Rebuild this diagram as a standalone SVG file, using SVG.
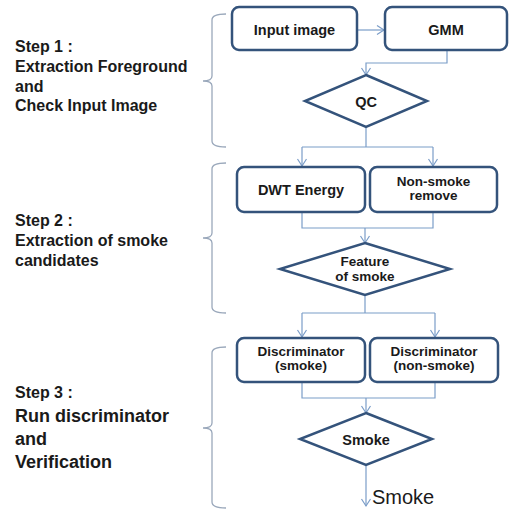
<svg xmlns="http://www.w3.org/2000/svg" width="509" height="512" viewBox="0 0 509 512">
  <style>
    .box { fill: #ffffff; stroke: #34537b; stroke-width: 2.5; }
    .dia { fill: #ffffff; stroke: #34537b; stroke-width: 2.5; stroke-linejoin: miter; }
    .lbl { font-family: "Liberation Sans", Arial, sans-serif; font-weight: bold; font-size: 14.5px; fill: #1a1a1a; text-anchor: middle; }
    .lbl.two { font-size: 13.5px; }
    .step { font-family: "Liberation Sans", Arial, sans-serif; font-weight: bold; font-size: 16px; fill: #1a1a1a; }
    .step.big { font-size: 18px; }
    .out { font-family: "Liberation Sans", Arial, sans-serif; font-size: 20px; fill: #1a1a1a; }
    .wire { fill: none; stroke: #7b9dc8; stroke-width: 1.2; }
    .brace { fill: none; stroke: #9aa8bb; stroke-width: 1.3; }
  </style>
  <defs>
    <marker id="arr" markerUnits="userSpaceOnUse" markerWidth="12" markerHeight="12" viewBox="0 0 12 12" refX="10" refY="6" orient="auto">
      <path d="M3,1.5 L10,6 L3,10.5" fill="none" stroke="#7b9dc8" stroke-width="1.2"/>
    </marker>
  </defs>

  <rect width="509" height="512" fill="#ffffff"/>

  <!-- step captions -->
  <g id="step1-label">
    <text class="step" x="15" y="52">Step 1 :</text>
    <text class="step" x="15" y="72">Extraction Foreground</text>
    <text class="step" x="15" y="92">and</text>
    <text class="step" x="15" y="111">Check Input Image</text>
  </g>
  <g id="step2-label">
    <text class="step" x="15" y="226">Step 2 :</text>
    <text class="step" x="15" y="246">Extraction of smoke</text>
    <text class="step" x="15" y="266">candidates</text>
  </g>
  <g id="step3-label">
    <text class="step" x="15" y="398">Step 3 :</text>
    <text class="step big" x="15" y="422">Run discriminator</text>
    <text class="step big" x="15" y="445">and</text>
    <text class="step big" x="15" y="468">Verification</text>
  </g>

  <!-- braces grouping each step -->
  <g id="braces">
    <path class="brace" d="M226,14 Q212,14 212,20 L212,76 Q212,81 203,81 Q212,81 212,86 L212,141 Q212,147 226,147"/>
    <path class="brace" d="M226,163 Q212,163 212,169 L212,233 Q212,238 203,238 Q212,238 212,243 L212,307 Q212,313 226,313"/>
    <path class="brace" d="M226,347 Q212,347 212,353 L212,423 Q212,428 203,428 Q212,428 212,433 L212,502 Q212,508 226,508"/>
  </g>

  <!-- connectors -->
  <g id="connectors">
    <path class="wire" d="M357,30 H384" marker-end="url(#arr)"/>
    <path class="wire" d="M447,50 V63 H366 V75" marker-end="url(#arr)"/>
    <path class="wire" d="M366,127 V147 M302,147 H433"/>
    <path class="wire" d="M302,147 V166" marker-end="url(#arr)"/>
    <path class="wire" d="M433,147 V166" marker-end="url(#arr)"/>
    <path class="wire" d="M302,212 V228 H433 V212"/>
    <path class="wire" d="M365,228 V243" marker-end="url(#arr)"/>
    <path class="wire" d="M365,295 V313 M302,313 H435"/>
    <path class="wire" d="M302,313 V337" marker-end="url(#arr)"/>
    <path class="wire" d="M435,313 V337" marker-end="url(#arr)"/>
    <path class="wire" d="M302,382 V398 H435 V382"/>
    <path class="wire" d="M366,398 V413" marker-end="url(#arr)"/>
    <path class="wire" d="M366,465 V506" marker-end="url(#arr)"/>
  </g>

  <!-- nodes -->
  <g id="input-image">
    <rect class="box" x="232" y="7" width="125" height="43" rx="7"/>
    <text class="lbl" x="294.5" y="35">Input image</text>
  </g>
  <g id="gmm">
    <rect class="box" x="385" y="7" width="122" height="43" rx="7"/>
    <text class="lbl" x="446" y="35">GMM</text>
  </g>
  <g id="qc">
    <polygon class="dia" points="366,75 427,101 366,127 305,101"/>
    <text class="lbl" x="366" y="107">QC</text>
  </g>
  <g id="dwt-energy">
    <rect class="box" x="237" y="167" width="128" height="45" rx="7"/>
    <text class="lbl" x="301" y="195">DWT Energy</text>
  </g>
  <g id="non-smoke-remove">
    <rect class="box" x="370" y="167" width="127" height="45" rx="7"/>
    <text class="lbl two" x="433.5" y="186">Non-smoke</text>
    <text class="lbl two" x="433.5" y="200">remove</text>
  </g>
  <g id="feature-of-smoke">
    <polygon class="dia" points="365,243 450,269 365,295 280,269"/>
    <text class="lbl two" x="365" y="266">Feature</text>
    <text class="lbl two" x="365" y="281">of smoke</text>
  </g>
  <g id="discriminator-smoke">
    <rect class="box" x="237" y="338" width="128" height="44" rx="7"/>
    <text class="lbl two" x="301" y="356">Discriminator</text>
    <text class="lbl two" x="301" y="370">(smoke)</text>
  </g>
  <g id="discriminator-non-smoke">
    <rect class="box" x="370" y="338" width="128" height="44" rx="7"/>
    <text class="lbl two" x="434" y="356">Discriminator</text>
    <text class="lbl two" x="434" y="370">(non-smoke)</text>
  </g>
  <g id="smoke-decision">
    <polygon class="dia" points="366,413 432,439 366,465 300,439"/>
    <text class="lbl" x="366" y="445">Smoke</text>
  </g>
  <g id="smoke-output">
    <text class="out" x="372" y="504">Smoke</text>
  </g>
</svg>
